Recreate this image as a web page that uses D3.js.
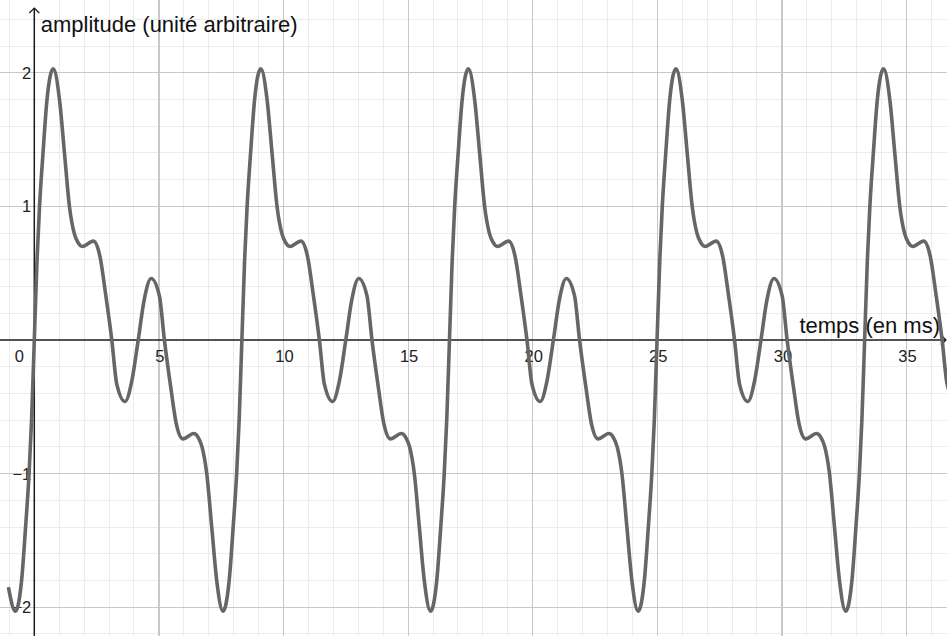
<!DOCTYPE html>
<html>
<head>
<meta charset="utf-8">
<script src="https://cdn.jsdelivr.net/npm/d3@7"></script>
<style>
  html, body { margin: 0; padding: 0; background: #fff; overflow: hidden; }
  svg { display: block; font-family: "Liberation Sans", Arial, sans-serif; }
</style>
</head>
<body>
<script>
// set the dimensions of the graph
const width = 947;
const height = 636;

// signal: time in ms
const timeMs = [
  -1.04, -0.76, -0.51, -0.35, -0.21, -0.11,
  0, 0.11, 0.21, 0.35, 0.51, 0.76, 1.01, 1.21, 1.41, 1.6, 1.75, 1.93, 2.37, 2.64, 2.85, 3.11, 3.31, 3.64, 3.92,
  4.17, 4.41, 4.69, 5.02, 5.22, 5.48, 5.69, 5.96, 6.4, 6.58, 6.73, 6.92, 7.12, 7.32, 7.57, 7.82, 7.98, 8.12, 8.22,
  8.33, 8.44, 8.54, 8.68, 8.84, 9.09, 9.34, 9.54, 9.74, 9.93, 10.08, 10.26, 10.7, 10.97, 11.18, 11.44, 11.64, 11.97, 12.25,
  12.5, 12.74, 13.02, 13.35, 13.55, 13.81, 14.02, 14.29, 14.73, 14.91, 15.06, 15.25, 15.45, 15.65, 15.9, 16.15, 16.31, 16.45, 16.55,
  16.66, 16.77, 16.87, 17.01, 17.17, 17.42, 17.67, 17.87, 18.07, 18.26, 18.41, 18.59, 19.03, 19.3, 19.51, 19.77, 19.97, 20.3, 20.58,
  20.83, 21.07, 21.35, 21.68, 21.88, 22.14, 22.35, 22.62, 23.06, 23.24, 23.39, 23.58, 23.78, 23.98, 24.23, 24.48, 24.64, 24.78, 24.88,
  24.99, 25.1, 25.2, 25.34, 25.5, 25.75, 26.0, 26.2, 26.4, 26.59, 26.74, 26.92, 27.36, 27.63, 27.84, 28.1, 28.3, 28.63, 28.91,
  29.16, 29.4, 29.68, 30.01, 30.21, 30.47, 30.68, 30.95, 31.39, 31.57, 31.72, 31.91, 32.11, 32.31, 32.56, 32.81, 32.97, 33.11, 33.21,
  33.32, 33.43, 33.53, 33.67, 33.83, 34.08, 34.33, 34.53, 34.73, 34.92, 35.07, 35.25, 35.69, 35.96, 36.17, 36.43, 36.63, 36.96
];

// amplitude (arbitrary unit) at each time above
const amplitude = [
  -1.85, -2.03, -1.8, -1.4, -1.0, -0.6,
  0, 0.6, 1.0, 1.4, 1.8, 2.03, 1.8, 1.4, 1.0, 0.8, 0.73, 0.7, 0.74, 0.62, 0.36, 0, -0.33, -0.46, -0.3,
  0, 0.3, 0.46, 0.33, 0, -0.36, -0.62, -0.74, -0.7, -0.73, -0.8, -1.0, -1.4, -1.8, -2.03, -1.8, -1.4, -1.0, -0.6,
  0, 0.6, 1.0, 1.4, 1.8, 2.03, 1.8, 1.4, 1.0, 0.8, 0.73, 0.7, 0.74, 0.62, 0.36, 0, -0.33, -0.46, -0.3,
  0, 0.3, 0.46, 0.33, 0, -0.36, -0.62, -0.74, -0.7, -0.73, -0.8, -1.0, -1.4, -1.8, -2.03, -1.8, -1.4, -1.0, -0.6,
  0, 0.6, 1.0, 1.4, 1.8, 2.03, 1.8, 1.4, 1.0, 0.8, 0.73, 0.7, 0.74, 0.62, 0.36, 0, -0.33, -0.46, -0.3,
  0, 0.3, 0.46, 0.33, 0, -0.36, -0.62, -0.74, -0.7, -0.73, -0.8, -1.0, -1.4, -1.8, -2.03, -1.8, -1.4, -1.0, -0.6,
  0, 0.6, 1.0, 1.4, 1.8, 2.03, 1.8, 1.4, 1.0, 0.8, 0.73, 0.7, 0.74, 0.62, 0.36, 0, -0.33, -0.46, -0.3,
  0, 0.3, 0.46, 0.33, 0, -0.36, -0.62, -0.74, -0.7, -0.73, -0.8, -1.0, -1.4, -1.8, -2.03, -1.8, -1.4, -1.0, -0.6,
  0, 0.6, 1.0, 1.4, 1.8, 2.03, 1.8, 1.4, 1.0, 0.8, 0.73, 0.7, 0.74, 0.62, 0.36, 0, -0.33, -0.46
];

// tick labels
const xTicks = [0, 5, 10, 15, 20, 25, 30, 35];
const yTicks = [-2, -1, 1, 2];
const xTitle = "temps (en ms)";
const yTitle = "amplitude (unité arbitraire)";

const svg = d3
  .select("body")
  .append("svg")
  .attr("width", width)
  .attr("height", height);

// scales: 1 ms ~ 24.9 px, 1 unit ~ 133.6 px, origin at (34.3, 340)
const x = d3.scaleLinear().domain([0, 35]).range([34.3, 906.5]);
const y = d3.scaleLinear().domain([-2, 2]).range([607.2, 72.8]);

const xMin = Math.floor(x.invert(0));
const xMax = Math.ceil(x.invert(width));
const yMin = Math.floor(y.invert(height) * 5) / 5;
const yMax = Math.ceil(y.invert(0) * 5) / 5;

// minor grid
const minorX = d3.range(xMin, xMax + 1, 1).filter((d) => d % 5 !== 0);
const minorY = d3.range(Math.round(yMin * 5), Math.round(yMax * 5) + 1)
  .filter((d) => d % 5 !== 0)
  .map((d) => d / 5);

const grid = svg.append("g").attr("shape-rendering", "crispEdges");

grid
  .selectAll(".minor-x")
  .data(minorX)
  .join("line")
  .attr("class", "minor-x")
  .attr("x1", (d) => x(d))
  .attr("x2", (d) => x(d))
  .attr("y1", 0)
  .attr("y2", height)
  .attr("stroke", "#ececec")
  .attr("stroke-width", 1);

grid
  .selectAll(".minor-y")
  .data(minorY)
  .join("line")
  .attr("class", "minor-y")
  .attr("x1", 0)
  .attr("x2", width)
  .attr("y1", (d) => y(d))
  .attr("y2", (d) => y(d))
  .attr("stroke", "#ececec")
  .attr("stroke-width", 1);

// major grid
const majorX = d3.range(xMin, xMax + 1, 1).filter((d) => d % 5 === 0 && d !== 0);
const majorY = d3.range(Math.ceil(yMin), Math.floor(yMax) + 1).filter((d) => d !== 0);

grid
  .selectAll(".major-x")
  .data(majorX)
  .join("line")
  .attr("class", "major-x")
  .attr("x1", (d) => x(d))
  .attr("x2", (d) => x(d))
  .attr("y1", 0)
  .attr("y2", height)
  .attr("stroke", "#c8c8c8")
  .attr("stroke-width", 1.2);

grid
  .selectAll(".major-y")
  .data(majorY)
  .join("line")
  .attr("class", "major-y")
  .attr("x1", 0)
  .attr("x2", width)
  .attr("y1", (d) => y(d))
  .attr("y2", (d) => y(d))
  .attr("stroke", "#c8c8c8")
  .attr("stroke-width", 1.2);

// axes with open arrow heads
const axes = svg.append("g").attr("stroke", "#1a1a1a").attr("fill", "none");
axes
  .append("line")
  .attr("x1", 0)
  .attr("x2", width - 1)
  .attr("y1", y(0))
  .attr("y2", y(0))
  .attr("stroke-width", 1.5);
axes
  .append("path")
  .attr("d", `M${width - 6},${y(0) - 5}L${width - 1},${y(0)}L${width - 6},${y(0) + 5}`)
  .attr("stroke-width", 1.2);
axes
  .append("line")
  .attr("x1", x(0))
  .attr("x2", x(0))
  .attr("y1", 8)
  .attr("y2", height)
  .attr("stroke-width", 1.5);
axes
  .append("path")
  .attr("d", `M${x(0) - 5},13L${x(0)},8L${x(0) + 5},13`)
  .attr("stroke-width", 1.2);

// tick labels
const labels = svg.append("g").attr("fill", "#222").attr("font-size", 16.5);

labels
  .selectAll(".xlabel")
  .data(xTicks)
  .join("text")
  .attr("class", "xlabel")
  .attr("x", (d) => (d === 0 ? x(0) - 15 : x(d) + 1))
  .attr("y", y(0) + 22)
  .attr("text-anchor", "middle")
  .text((d) => d);

labels
  .selectAll(".ylabel")
  .data(yTicks)
  .join("text")
  .attr("class", "ylabel")
  .attr("x", x(0) - 3)
  .attr("y", (d) => y(d))
  .attr("dy", "0.36em")
  .attr("text-anchor", "end")
  .text((d) => (d < 0 ? `\u2212${-d}` : d));

// axis titles
svg
  .append("text")
  .attr("x", x(0) + 6.5)
  .attr("y", 31.5)
  .attr("font-size", 22)
  .attr("fill", "#111")
  .text(yTitle);

svg
  .append("text")
  .attr("x", width - 7)
  .attr("y", y(0) - 7)
  .attr("font-size", 22)
  .attr("fill", "#111")
  .attr("text-anchor", "end")
  .text(xTitle);

// the signal
const points = timeMs.map((t, i) => ({ t, a: amplitude[i] }));

const line = d3
  .line()
  .x((d) => x(d.t))
  .y((d) => y(d.a))
  .curve(d3.curveMonotoneX);

svg
  .append("path")
  .datum(points)
  .attr("d", line)
  .attr("fill", "none")
  .attr("stroke", "#666")
  .attr("stroke-width", 3.6)
  .attr("stroke-linejoin", "round");
</script>
</body>
</html>
